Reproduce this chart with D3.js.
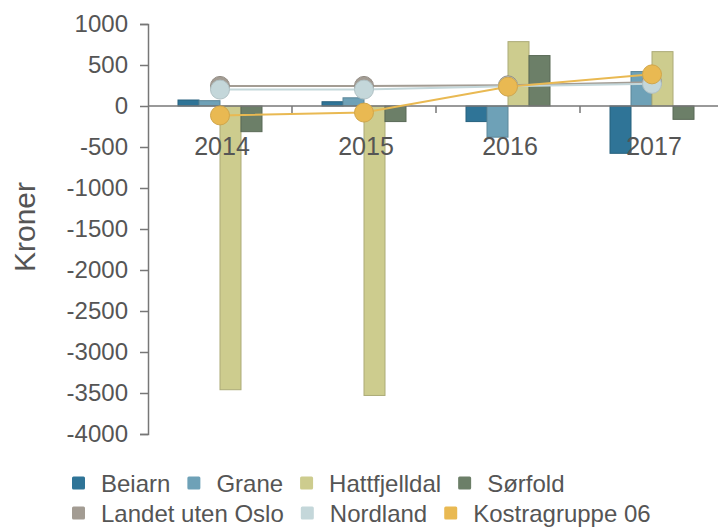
<!DOCTYPE html>
<html>
<head>
<meta charset="utf-8">
<script src="https://cdn.jsdelivr.net/npm/d3@7"></script>
<style>
  body { margin: 0; background: #fff; }
  text { font-family: "Liberation Sans", Arial, sans-serif; fill: #555; }
</style>
</head>
<body>
<div id="container"></div>
<script>
// data
const years = ["2014", "2015", "2016", "2017"];
const barSeries = ["Beiarn", "Grane", "Hattfjelldal", "Sørfold"];
const beiarn = [73, 52, -190, -577];
const grane = [65, 100, -380, 420];
const hattfjelldal = [-3460, -3530, 785, 663];
const sorfold = [-313, -190, 615, -163];

const lineSeries = ["Landet uten Oslo", "Nordland", "Kostragruppe 06"];
const landet = [245, 245, 252, 290];
const nordland = [200, 200, 240, 270];
const kostra = [-115, -80, 236, 386];

const yTicks = [1000, 500, 0, -500, -1000, -1500, -2000, -2500, -3000, -3500, -4000];

const colors = {
  "Beiarn": "#2f7497",
  "Grane": "#6ea1b7",
  "Hattfjelldal": "#cdcc8e",
  "Sørfold": "#6c7f68",
  "Landet uten Oslo": "#a39c93",
  "Nordland": "#c4d7da",
  "Kostragruppe 06": "#e9b952"
};

const width = 718;
const height = 528;

const svg = d3.select("#container").append("svg")
    .attr("width", width)
    .attr("height", height);

// scales
const x0 = d3.scaleBand()
    .domain(years)
    .range([148, 724])
    .paddingInner(0.4167)
    .paddingOuter(0.2083);

const x1 = d3.scaleBand()
    .domain(barSeries)
    .range([0, x0.bandwidth()]);

const y = d3.scaleLinear()
    .domain([-4000, 1000])
    .range([434, 24]);

// y axis
const yAxis = svg.append("g")
    .attr("transform", "translate(148,0)")
    .call(d3.axisLeft(y).tickValues(yTicks).tickSize(8).tickPadding(12).tickFormat(d => String(d)));
yAxis.selectAll("path, line").attr("stroke", "#777").attr("stroke-width", 1.5);
yAxis.selectAll("text")
    .style("font-size", "24px")
    .attr("fill", "#555")
    .attr("font-family", "Liberation Sans, Arial, sans-serif");

svg.append("text")
    .attr("transform", "translate(35,227) rotate(-90)")
    .attr("text-anchor", "middle")
    .style("font-size", "30px")
    .text("Kroner");

// bars
const barValues = { "Beiarn": beiarn, "Grane": grane, "Hattfjelldal": hattfjelldal, "Sørfold": sorfold };
barSeries.forEach(s => {
  svg.append("g").selectAll("rect")
    .data(years.map((yr, i) => ({ yr: yr, v: barValues[s][i] })))
    .join("rect")
      .attr("x", d => x0(d.yr) + x1(s))
      .attr("y", d => y(Math.max(0, d.v)))
      .attr("width", x1.bandwidth())
      .attr("height", d => Math.abs(y(d.v) - y(0)))
      .attr("fill", colors[s])
      .attr("stroke", d3.color(colors[s]).darker(0.5))
      .attr("stroke-width", 1);
});

// zero line + category ticks
svg.append("line")
    .attr("x1", 148).attr("x2", width)
    .attr("y1", y(0)).attr("y2", y(0))
    .attr("stroke", "#777").attr("stroke-width", 1.5);

const step = x0.step();
svg.append("g").selectAll("line")
    .data(years.slice(1))
    .join("line")
      .attr("x1", d => x0(d) + x0.bandwidth() / 2 - step / 2)
      .attr("x2", d => x0(d) + x0.bandwidth() / 2 - step / 2)
      .attr("y1", y(0))
      .attr("y2", y(0) + 7)
      .attr("stroke", "#777").attr("stroke-width", 1.5);

svg.append("g").selectAll("text")
    .data(years)
    .join("text")
      .attr("x", d => x0(d) + x0.bandwidth() / 2 + 2)
      .attr("y", 155)
      .attr("text-anchor", "middle")
      .style("font-size", "25px")
      .text(d => d);

// lines
const lineValues = { "Landet uten Oslo": landet, "Nordland": nordland, "Kostragruppe 06": kostra };
const line = d3.line()
    .x(d => x0(d.yr) + x0.bandwidth() / 2)
    .y(d => y(d.v));

lineSeries.forEach(s => {
  const pts = years.map((yr, i) => ({ yr: yr, v: lineValues[s][i] }));
  svg.append("path")
      .datum(pts)
      .attr("d", line)
      .attr("fill", "none")
      .attr("stroke", colors[s])
      .attr("stroke-width", 2);
  svg.append("g").selectAll("circle")
    .data(pts)
    .join("circle")
      .attr("cx", d => x0(d.yr) + x0.bandwidth() / 2)
      .attr("cy", d => y(d.v))
      .attr("r", 9.5)
      .attr("fill", colors[s])
      .attr("stroke", d3.color(colors[s]).darker(0.3))
      .attr("stroke-width", 1);
});

// legend
const legendRows = [barSeries, lineSeries];
const legendY = [483, 513];
legendRows.forEach((row, r) => {
  let xPos = 72;
  row.forEach(s => {
    svg.append("rect")
        .attr("x", xPos)
        .attr("y", legendY[r] - 6.5)
        .attr("width", 13)
        .attr("height", 13)
        .attr("rx", 1.5)
        .attr("fill", colors[s]);
    const t = svg.append("text")
        .attr("x", xPos + 29)
        .attr("y", legendY[r] + 8.5)
        .style("font-size", "24px")
        .text(s);
    xPos += 29 + t.node().getComputedTextLength() + 17;
  });
});
</script>
</body>
</html>
